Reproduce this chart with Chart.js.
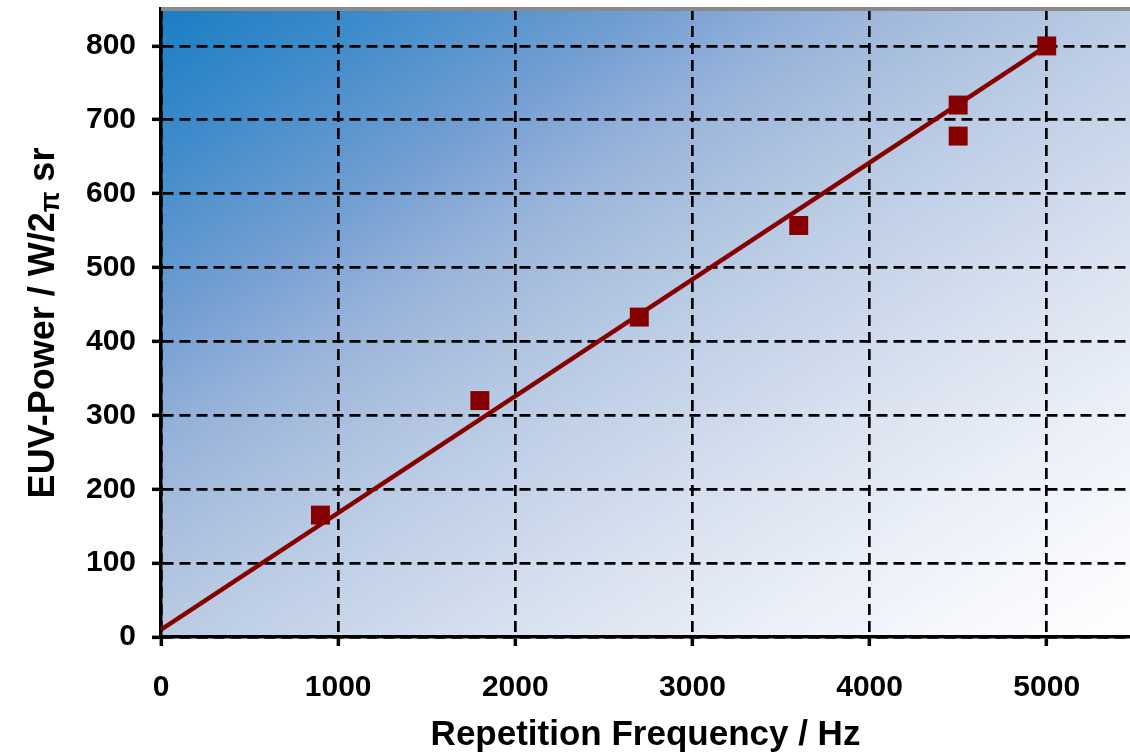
<!DOCTYPE html>
<html>
<head>
<meta charset="utf-8">
<script src="https://cdn.jsdelivr.net/npm/chart.js@4/dist/chart.umd.min.js"></script>
<style>
  html, body { margin: 0; padding: 0; background: #ffffff; }
  #wrap { width: 1130px; height: 752px; }
</style>
</head>
<body>
<div id="wrap"><canvas id="c" width="1130" height="752"></canvas></div>
<script>
// Measured EUV output versus laser repetition rate
const freq  = [900, 1800, 2700, 3600, 4500, 4500, 5000];
const power = [165, 320, 433, 557, 720, 678, 800];

// Linear fit through the measurements
const fitFreq  = [0, 5000];
const fitPower = [10, 800];

// Axis ranges and tick values
const xRange = [0, 5470];
const yRange = [0, 850];
const xTickValues = [0, 1000, 2000, 3000, 4000, 5000];
const yTickValues = [0, 100, 200, 300, 400, 500, 600, 700, 800];

const FONT = '"Liberation Sans", Arial, Helvetica, sans-serif';
const DARK_RED = '#860000';

// Diagonal blue-to-white fill behind the plot plus the grey top edge
const plotBackground = {
  id: 'plotBackground',
  beforeDraw(chart) {
    const { ctx, chartArea: a } = chart;
    const w = a.right - a.left, h = a.bottom - a.top;
    ctx.save();
    ctx.translate(a.left, a.top);
    ctx.scale(w, h);
    const g = ctx.createLinearGradient(0, 0, 1, 1);
    g.addColorStop(0.00, '#1a7dc4');
    g.addColorStop(0.12, '#408cca');
    g.addColorStop(0.25, '#729ed2');
    g.addColorStop(0.35, '#98b3da');
    g.addColorStop(0.45, '#b0c4e0');
    g.addColorStop(0.55, '#c3d2e8');
    g.addColorStop(0.70, '#dce4f1');
    g.addColorStop(0.80, '#eaeff8');
    g.addColorStop(0.90, '#f6f8fc');
    g.addColorStop(1.00, '#ffffff');
    ctx.fillStyle = g;
    ctx.fillRect(0, 0, 1, 1);
    ctx.restore();
  },
  afterDraw(chart) {
    const { ctx, chartArea: a } = chart;
    ctx.save();
    ctx.strokeStyle = '#8a8a8a';
    ctx.lineWidth = 4;
    ctx.beginPath();
    ctx.moveTo(a.left, a.top);
    ctx.lineTo(a.right, a.top);
    ctx.stroke();
    ctx.restore();
  }
};

// Vertical axis title with a subscripted pi
const yAxisTitle = {
  id: 'yAxisTitle',
  afterDraw(chart) {
    const { ctx, chartArea: a } = chart;
    const parts = [
      { text: 'EUV-Power / W/2', size: 36, shift: 0 },
      { text: '\u03C0', size: 27, shift: 5 },
      { text: ' sr', size: 36, shift: 0 }
    ];
    ctx.save();
    let total = 0;
    parts.forEach(p => {
      ctx.font = 'bold ' + p.size + 'px ' + FONT;
      p.w = ctx.measureText(p.text).width;
      total += p.w;
    });
    ctx.translate(54, (a.top + a.bottom) / 2);
    ctx.rotate(-Math.PI / 2);
    ctx.fillStyle = '#000000';
    ctx.textBaseline = 'alphabetic';
    ctx.textAlign = 'left';
    let x = -total / 2;
    parts.forEach(p => {
      ctx.font = 'bold ' + p.size + 'px ' + FONT;
      ctx.fillText(p.text, x, p.shift);
      x += p.w;
    });
    ctx.restore();
  }
};

const gridStyle = {
  color: '#000000',
  lineWidth: 2.7,
  drawTicks: true,
  tickLength: 9,
  tickWidth: 3.5,
  tickColor: '#000000'
};
const borderStyle = { display: true, color: '#000000', width: 3.5, dash: [11, 6] };
const plainLabel = v => String(v);

new Chart(document.getElementById('c'), {
  type: 'scatter',
  data: {
    datasets: [
      {
        type: 'scatter',
        label: 'Measured',
        data: freq.map((f, i) => ({ x: f, y: power[i] })),
        pointStyle: 'rect',
        pointRadius: 13.4,
        pointHoverRadius: 13.4,
        backgroundColor: DARK_RED,
        borderColor: DARK_RED,
        borderWidth: 0,
        order: 1
      },
      {
        type: 'line',
        label: 'Fit',
        data: fitFreq.map((f, i) => ({ x: f, y: fitPower[i] })),
        borderColor: DARK_RED,
        borderWidth: 4.5,
        pointRadius: 0,
        fill: false,
        tension: 0,
        order: 2
      }
    ]
  },
  plugins: [plotBackground, yAxisTitle],
  options: {
    responsive: false,
    animation: false,
    layout: { autoPadding: false, padding: { top: 9, right: 0, bottom: 0, left: 0 } },
    plugins: {
      legend: { display: false },
      tooltip: { enabled: false }
    },
    scales: {
      x: {
        type: 'linear',
        min: xRange[0],
        max: xRange[1],
        afterBuildTicks(scale) { scale.ticks = xTickValues.map(v => ({ value: v })); },
        afterFit(scale) {
          scale.height = 115;
          scale.paddingLeft = 0;
          scale.paddingRight = 0;
        },
        grid: gridStyle,
        border: borderStyle,
        ticks: {
          color: '#000000',
          padding: 24,
          maxRotation: 0,
          autoSkip: false,
          callback: plainLabel,
          font: { family: FONT, size: 30, weight: 'bold' }
        },
        title: {
          display: true,
          text: 'Repetition Frequency / Hz',
          color: '#000000',
          padding: { top: 0, bottom: 0 },
          font: { family: FONT, size: 35, weight: 'bold', lineHeight: 0.95 }
        }
      },
      y: {
        type: 'linear',
        min: yRange[0],
        max: yRange[1],
        afterBuildTicks(scale) { scale.ticks = yTickValues.map(v => ({ value: v })); },
        afterFit(scale) {
          scale.width = 161;
          scale.paddingTop = 0;
          scale.paddingBottom = 0;
        },
        grid: gridStyle,
        border: borderStyle,
        ticks: {
          color: '#000000',
          padding: 16,
          autoSkip: false,
          callback: plainLabel,
          font: { family: FONT, size: 30, weight: 'bold' }
        }
      }
    }
  }
});
</script>
</body>
</html>
